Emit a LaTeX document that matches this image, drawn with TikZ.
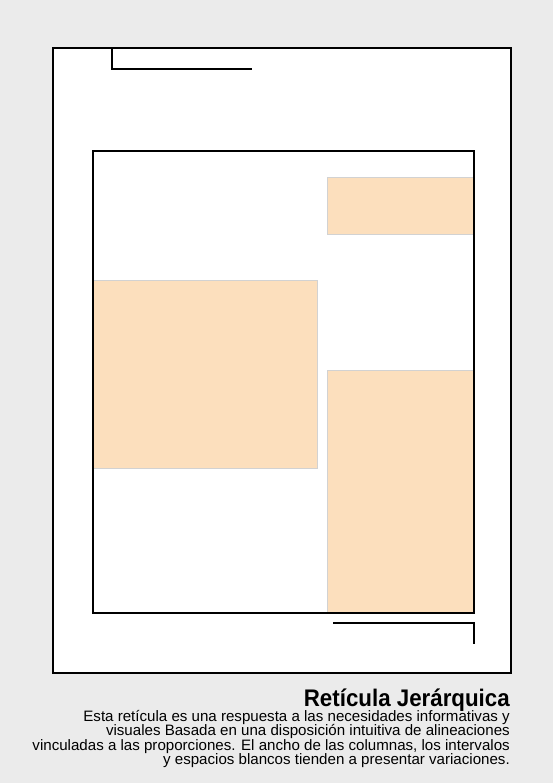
\documentclass[tikz,border=0pt]{standalone}
\usepackage{fontspec}
\setmainfont{Liberation Sans}
\newfontfamily\titlefont[FakeStretch=0.93]{Liberation Sans}
\usetikzlibrary{positioning}

\definecolor{pagebg}{HTML}{EBEBEB}
\definecolor{blockfill}{HTML}{FCDFBD}
\definecolor{blockedge}{HTML}{D2D2D2}

\begin{document}
\begin{tikzpicture}[
  x=1pt,y=-1pt,
  frame/.style={draw=black,line width=1.6pt,fill=white},
  margin_line/.style={draw=black,line width=1.6pt},
  block/.style={fill=blockfill,draw=blockedge,line width=0.8pt},
  title_style/.style={font=\titlefont\bfseries\fontsize{24}{26}\selectfont,inner sep=0pt},
  body_style/.style={font=\fontsize{15.1}{14.4}\selectfont,align=right,inner sep=0pt},
]

%% ===== Page ==================================================================
\fill[pagebg] (0,0) rectangle (553,783);
\useasboundingbox (0,0) rectangle (553,783);
\draw[frame] (53,48) rectangle (511,673);

%% ===== Margin marks ==========================================================
\draw[margin_line] (112,48) |- (252,69);
\draw[margin_line] (333,623) -| (474,644);

%% ===== Blocks ================================================================
\draw[block] (327,177) rectangle (474,234);
\draw[block] (93,280) rectangle (317,468);
\draw[block] (327,370) rectangle (474,613);

%% ===== Grid field ============================================================
\draw[margin_line] (93,151) rectangle (474,613);

%% ===== Caption ===============================================================
\node[title_style,anchor=base east] (title) at (510,706) {Retícula Jerárquica};
\node[body_style,below=4pt of title.base east,anchor=north east] (body) {%
  Esta retícula es una respuesta a las necesidades informativas y\\
  visuales Basada en una disposición intuitiva de alineaciones\\
  vinculadas a las proporciones. El ancho de las columnas, los intervalos\\
  y espacios blancos tienden a presentar variaciones.};

\end{tikzpicture}
\end{document}
